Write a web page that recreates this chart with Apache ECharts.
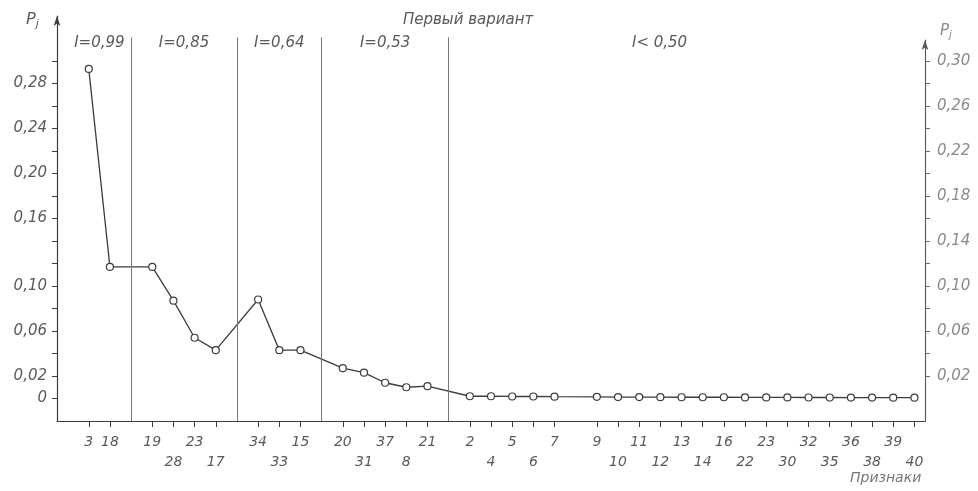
<!DOCTYPE html>
<html>
<head>
<meta charset="utf-8">
<script src="https://cdn.jsdelivr.net/npm/echarts@6/dist/echarts.min.js"></script>
<style>html,body{margin:0;padding:0;background:#fff;}#c{width:978px;height:491px;}</style>
</head>
<body>
<div id="c"></div>
<script>
// ---- data ----
const features = ['3','18','19','28','23','17','34','33','15','20','31','37','8','21',
  '2','4','5','6','7','9','10','11','12','13','14','16','22','23','30','32','35','36','38','39','40'];
const pj = [0.293, 0.117, 0.117, 0.087, 0.054, 0.043, 0.088, 0.043, 0.043, 0.027, 0.023, 0.014, 0.010, 0.011,
  0.002, 0.002, 0.0018, 0.0018, 0.0016, 0.0015, 0.0013, 0.0013, 0.0012, 0.0011, 0.0011, 0.0011,
  0.001, 0.001, 0.001, 0.0009, 0.0009, 0.0008, 0.0008, 0.0007, 0.0007];
const groupLabels = ['I=0,99', 'I=0,85', 'I=0,64', 'I=0,53', 'I< 0,50'];
const groupSizes = [2, 4, 3, 5, 21];
const lowerRowLabels = ['28','17','33','31','8','4','6','10','12','14','22','30','35','38','40'];
const leftTickValues = [0, 0.02, 0.04, 0.06, 0.08, 0.10, 0.12, 0.14, 0.16, 0.18, 0.20, 0.22, 0.24, 0.26, 0.28, 0.30];
const leftLabelValues = [0, 0.02, 0.06, 0.10, 0.16, 0.20, 0.24, 0.28];
const rightTickValues = [0.02, 0.04, 0.06, 0.08, 0.10, 0.12, 0.14, 0.16, 0.18, 0.20, 0.22, 0.24, 0.26, 0.28, 0.30];
const rightLabelValues = [0.02, 0.06, 0.10, 0.14, 0.18, 0.22, 0.26, 0.30];
const titleText = 'Первый вариант';
const xName = 'Признаки';

// ---- build padded category axis (blank slots = dividers / spacing) ----
const spacerAfter = '7';
const cats = [''];
const vals = [null];
const lowerIdx = new Set();
const dividers = [];
let fi = 0;
groupSizes.forEach((n, g) => {
  if (g > 0) { dividers.push(cats.length); cats.push(''); vals.push(null); }
  for (let k = 0; k < n; k++, fi++) {
    if (lowerRowLabels.includes(features[fi])) lowerIdx.add(cats.length);
    cats.push(features[fi]); vals.push(pj[fi]);
    if (features[fi] === spacerAfter && g === groupSizes.length - 1) { cats.push(''); vals.push(null); }
  }
});
const lastIdx = cats.length - 1;
const bounds = [0].concat(dividers).concat([lastIdx]);

const fmt = v => Math.abs(v) < 1e-9 ? '0' : v.toFixed(2).replace('.', ',');
const FONT = 'DejaVu Sans';
const TXT = '#5a5a5a';
const LINE = '#3c3c3c';

const chart = echarts.init(document.getElementById('c'), null, {renderer: 'canvas'});
chart.setOption({
  backgroundColor: '#ffffff',
  animation: false,
  grid: [
    {left: 57, right: 53, top: 16, bottom: 70},
    {left: 57, right: 53, top: 40, bottom: 70}
  ],
  xAxis: [{
    type: 'category', gridIndex: 0, data: cats, boundaryGap: true,
    axisLine: {onZero: false, lineStyle: {color: LINE, width: 1.2}},
    axisTick: {show: true, alignWithLabel: true, length: 6, lineStyle: {color: LINE, width: 1},
      interval: (i) => cats[i] !== ''},
    axisLabel: {interval: 0, margin: 11, fontFamily: FONT, fontStyle: 'italic', fontSize: 14,
      color: TXT, lineHeight: 20,
      formatter: (v, i) => lowerIdx.has(i) ? '\n' + v : v},
    splitLine: {show: false}
  }, {
    type: 'category', gridIndex: 1, data: cats, show: false,
    axisLine: {onZero: false}
  }],
  yAxis: [{
    type: 'value', gridIndex: 0, position: 'left', min: -0.02, max: 0.34,
    axisLine: {show: true, onZero: false, lineStyle: {color: LINE, width: 1.2}, symbol: ['none', 'arrow'], symbolSize: [5, 10]},
    axisTick: {show: true, length: 5, customValues: leftTickValues, lineStyle: {color: LINE}},
    axisLabel: {customValues: leftLabelValues, formatter: fmt, margin: 10, fontFamily: FONT,
      fontStyle: 'italic', fontSize: 15, color: TXT},
    splitLine: {show: false}
  }, {
    type: 'value', gridIndex: 1, position: 'right', min: -0.02, max: 0.3187,
    axisLine: {show: true, onZero: false, lineStyle: {color: '#555', width: 1.1}, symbol: ['none', 'arrow'], symbolSize: [5, 10]},
    axisTick: {show: true, length: 5, customValues: rightTickValues, lineStyle: {color: '#666'}},
    axisLabel: {customValues: rightLabelValues, formatter: fmt, margin: 12, fontFamily: FONT,
      fontStyle: 'italic', fontSize: 15, color: '#8a8a8a'},
    splitLine: {show: false}
  }],
  series: [{
    type: 'line', xAxisIndex: 0, yAxisIndex: 0, data: vals, connectNulls: true,
    symbol: 'circle', symbolSize: 7, showAllSymbol: true,
    lineStyle: {color: LINE, width: 1.3},
    itemStyle: {color: '#ffffff', borderColor: LINE, borderWidth: 1.2},
    markLine: {
      silent: true, symbol: 'none', animation: false,
      label: {show: false},
      lineStyle: {color: '#777', width: 1, type: 'solid'},
      data: dividers.map(d => [{coord: [d, -0.02]}, {coord: [d, 0.321]}])
    },
    markArea: {
      silent: true,
      itemStyle: {color: 'rgba(0,0,0,0)'},
      label: {show: true, position: 'inside', fontFamily: FONT, fontStyle: 'italic', fontSize: 15, color: TXT},
      data: groupLabels.map((g, k) => [
        {coord: [bounds[k], 0.306], name: g, label: k === groupLabels.length - 1 ? {offset: [-22, 0]} : {}},
        {coord: [bounds[k + 1], 0.326]}])
    }
  }],
  graphic: [
    {type: 'text', left: 403, top: 13, style: {text: titleText, font: 'italic 15px "DejaVu Sans"', fill: TXT}},
    {type: 'text', left: 26, top: 12, style: {
      text: '{p|P}{j|j}', rich: {
        p: {font: 'italic 16px "DejaVu Sans"', fill: TXT},
        j: {font: 'italic 11px "DejaVu Sans"', fill: TXT, padding: [8, 0, 0, 0]}
      }}},
    {type: 'text', left: 940, top: 24, style: {
      text: '{p|P}{j|j}', rich: {
        p: {font: 'italic 15px "DejaVu Sans"', fill: '#8a8a8a'},
        j: {font: 'italic 10px "DejaVu Sans"', fill: '#8a8a8a', padding: [8, 0, 0, 0]}
      }}},
    {type: 'text', left: 850, top: 471, style: {text: xName, font: 'italic 14px "DejaVu Sans"', fill: '#777'}}
  ]
});
</script>
</body>
</html>
